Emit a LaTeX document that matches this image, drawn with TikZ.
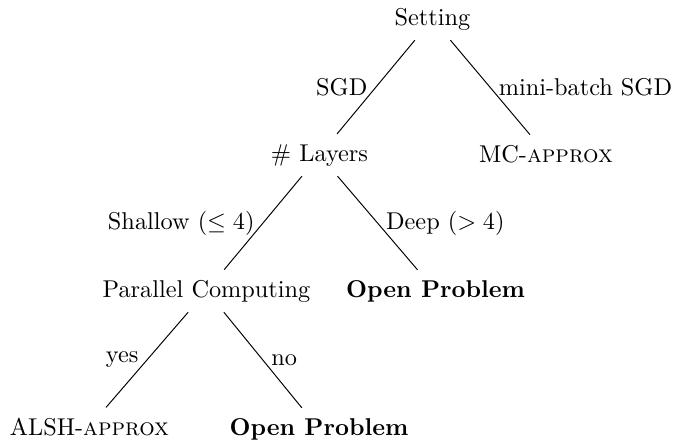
\documentclass[tikz,border=0pt]{standalone}
\begin{document}
\begin{tikzpicture}[x=0.41152pt,y=-0.41152pt,
  tnode/.style={inner sep=4pt, anchor=base},
  lblL/.style={inner sep=3.333pt, anchor=east, midway},
  lblR/.style={inner sep=3.333pt, anchor=west, midway},
  edge/.style={draw=black, line width=0.4pt}]
\useasboundingbox (0,0) rectangle (691,441);
\node[tnode] (s)  at (432.5,25) {Setting};
\node[tnode] (l)  at (319.5,161) {\# Layers};
\node[tnode] (mc) at (546,162) {MC-\textsc{approx}};
\node[tnode] (p)  at (206.5,297) {Parallel Computing};
\node[tnode] (o1) at (435.5,297) {\textbf{Open Problem}};
\node[tnode] (a)  at (89.5,435) {ALSH-\textsc{approx}};
\node[tnode] (o2) at (319,435) {\textbf{Open Problem}};
\draw[edge] (s) -- node[lblL] (lsgd) {SGD} (l);
\draw[edge] (s) -- node[lblR] (lmb) {mini-batch SGD} (mc);
\draw[edge] (l) -- node[lblL] (lsh) {Shallow ($\leq 4$)} (p);
\draw[edge] (l) -- node[lblR] (ldp) {Deep ($> 4$)} (o1);
\draw[edge] (p) -- node[lblL] (lyes) {yes} (a);
\draw[edge] (p) -- node[lblR] (lno) {no} (o2);
\end{tikzpicture}
\end{document}
